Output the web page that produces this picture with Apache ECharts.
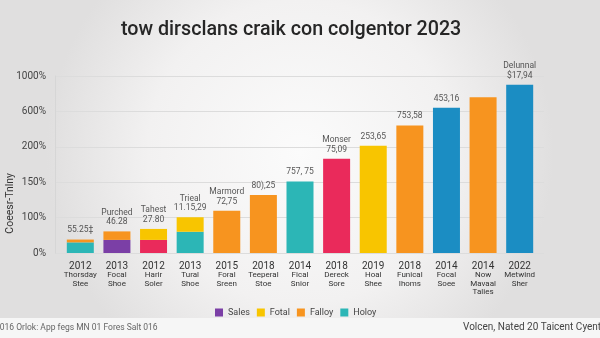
<!DOCTYPE html>
<html>
<head>
<meta charset="utf-8">
<script src="https://cdn.jsdelivr.net/npm/echarts@6/dist/echarts.min.js"></script>
<style>
  html, body { margin: 0; padding: 0; }
  #chart { width: 600px; height: 338px; }
</style>
</head>
<body>
<div id="chart"></div>
<script>
// Category labels: year, then name lines
const categories = [
  '2012\nThorsday\nStee', '2013\nFocal\nShoe', '2012\nHarir\nSoler', '2013\nTural\nShoe',
  '2015\nForal\nSreen', '2018\nTeeperal\nStoe', '2014\nFical\nSnior', '2018\nDereck\nSore',
  '2019\nHoal\nShee', '2018\nFunical\nIhoms', '2014\nFocal\nSoee', '2014\nNow\nMavaal\nTalies',
  '2022\nMetwind\nSher'
];

// Y tick labels (evenly spaced steps)
const yTickLabels = ['0%', '100%', '150%', '200%', '600%', '1000%'];

// Series values, in axis steps
const holoy  = [0.30, '-', '-', 0.60, '-', '-', 2.02, '-', '-', '-', '-', '-', '-'];
const sales  = ['-', 0.37, '-', '-', '-', '-', '-', '-', '-', '-', '-', '-', '-'];
const dereck = ['-', '-', 0.37, '-', '-', '-', '-', 2.66, '-', '-', '-', '-', '-'];
const focal  = ['-', '-', '-', '-', '-', '-', '-', '-', '-', '-', 4.10, '-', 4.75];
const falloy = [0.08, 0.24, '-', '-', 1.19, 1.64, '-', '-', '-', 3.60, '-', 4.40, '-'];
const fotal  = ['-', '-', 0.31, 0.41, '-', '-', '-', '-', 3.03, '-', '-', '-', '-'];

// Notes printed above the bars
const barNotes = [
  '55.25‡', 'Purched\n46.28', 'Tahest\n27.80', 'Trieal\n11.15,29', 'Marmord\n72,75', '80),25',
  '757, 75', 'Monser\n75,09', '253,65', '753,58', '453,16', '', 'Delunnal\n$17,94'
];

const colors = {
  holoy: '#2cb6b6', sales: '#7b3fa6', dereck: '#ea2a5b',
  focal: '#1b8dc3', falloy: '#f7941f', fotal: '#f8c500'
};

const stacks = [holoy, sales, dereck, focal, falloy, fotal];
const totals = categories.map((_, i) =>
  stacks.reduce((s, arr) => s + (typeof arr[i] === 'number' ? arr[i] : 0), 0));

function barSeries(name, data, color) {
  return {
    name, type: 'bar', stack: 'total', xAxisIndex: 1, yAxisIndex: 1,
    data, barWidth: 27, itemStyle: { color }, emphasis: { disabled: true }
  };
}

const chart = echarts.init(document.getElementById('chart'));
chart.setOption({
  animation: false,
  backgroundColor: {
    type: 'radial', x: 0.5, y: 0.45, r: 0.75,
    colorStops: [
      { offset: 0, color: '#fbfbfb' },
      { offset: 0.6, color: '#f2f1f1' },
      { offset: 1, color: '#e0dfdf' }
    ]
  },
  title: {
    text: 'tow dirsclans craik con colgentor 2023',
    left: 116, top: 15,
    textStyle: { fontFamily: 'Roboto', fontSize: 19.7, fontWeight: 500, color: '#262626' }
  },
  graphic: [
    { type: 'rect', shape: { x: 0, y: 318, width: 600, height: 20 }, style: { fill: '#f6f6f6' }, z: -1 },
    { type: 'text', left: -5, top: 323,
      style: { text: '2016 Orlok: App fegs MN 01 Fores Salt 016', fontFamily: 'Roboto', fontSize: 8.5, fill: '#666' } },
    { type: 'text', left: 463, top: 322,
      style: { text: 'Volcen, Nated 20 Taicent Cyentre', fontFamily: 'Roboto', fontSize: 10, fill: '#444' } },
    { type: 'text', left: 5, top: 173, rotation: Math.PI / 2, originX: 0, originY: 0,
      style: { text: 'Coeesr-Tnlny', fontFamily: 'Roboto', fontSize: 10.5, fill: '#333',
               align: 'center', verticalAlign: 'middle', x: 7, y: 0 } }
  ],
  legend: {
    data: ['Sales', 'Fotal', 'Falloy', 'Holoy'],
    left: 210, top: 303,
    itemWidth: 8, itemHeight: 8, itemGap: 7,
    icon: 'rect',
    textStyle: { fontFamily: 'Roboto', fontSize: 9, color: '#444' }
  },
  grid: [
    { left: 55, right: 56, top: 76, bottom: 85 },
    { left: 62, right: 62, top: 76, bottom: 85 }
  ],
  xAxis: [
    { type: 'category', gridIndex: 0, data: [''], show: false },
    {
      type: 'category', gridIndex: 1, data: categories,
      axisLine: { show: false }, axisTick: { show: false },
      axisLabel: {
        interval: 0, margin: 8, color: '#333', fontFamily: 'Roboto',
        formatter: (v) => {
          const parts = v.split('\n');
          return '{y|' + parts[0] + '}\n' + parts.slice(1).map(p => '{n|' + p + '}').join('\n');
        },
        rich: {
          y: { fontSize: 10, lineHeight: 10, color: '#333', fontFamily: 'Roboto' },
          n: { fontSize: 8, lineHeight: 8.5, color: '#333', fontFamily: 'Roboto' }
        }
      }
    }
  ],
  yAxis: [
    {
      type: 'value', gridIndex: 0, min: 0, max: 5, interval: 1,
      axisLine: { show: true, lineStyle: { color: '#d6d6d6' } },
      axisTick: { show: false },
      splitLine: { lineStyle: { color: '#dcdcdc' } },
      axisLabel: {
        margin: 9, fontFamily: 'Roboto', fontSize: 10, color: '#444',
        formatter: (v) => yTickLabels[Math.round(v)]
      }
    },
    { type: 'value', gridIndex: 1, min: 0, max: 5, interval: 1, show: false, splitLine: { show: false } }
  ],
  series: [
    barSeries('Holoy', holoy, colors.holoy),
    barSeries('Sales', sales, colors.sales),
    barSeries('Dereck', dereck, colors.dereck),
    barSeries('Focal', focal, colors.focal),
    barSeries('Falloy', falloy, colors.falloy),
    barSeries('Fotal', fotal, colors.fotal),
    {
      name: 'notes', type: 'scatter', xAxisIndex: 1, yAxisIndex: 1,
      data: totals, symbolSize: 1, itemStyle: { color: 'rgba(0,0,0,0)' }, silent: true,
      label: {
        show: true, position: 'top', distance: 4,
        fontFamily: 'Roboto', fontSize: 8.5, lineHeight: 9.5, color: '#2e2e2e',
        formatter: (p) => barNotes[p.dataIndex]
      },
      labelLayout: { hideOverlap: false },
      z: 5
    }
  ]
});
</script>
</body>
</html>
